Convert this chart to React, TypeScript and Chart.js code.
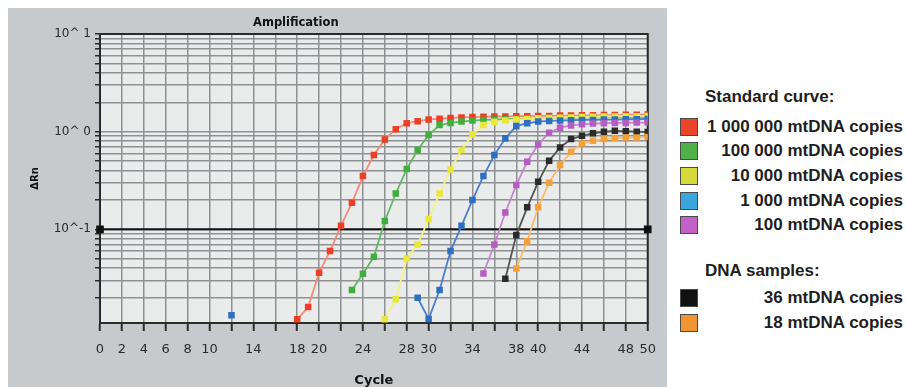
import React, { useEffect, useRef } from "react";
import { Chart, registerables } from "chart.js";

Chart.register(...registerables);

// ---- axis data ----
const cycleMin = 0;
const cycleMax = 50;
const cycleStep = 2;
const xTickLabels = [0, 2, 4, 6, 8, 10, 14, 18, 20, 24, 28, 30, 34, 38, 40, 44, 48, 50];
const yMin = 0.011;
const yMax = 10;
const yTickValues = [
  0.02, 0.03, 0.04, 0.05, 0.06, 0.07, 0.08, 0.09,
  0.1, 0.2, 0.3, 0.4, 0.5, 0.6, 0.7, 0.8, 0.9,
  1, 2, 3, 4, 5, 6, 7, 8, 9, 10,
];
const yLabelValues = [0.1, 1, 10];
const yLabelTexts = ["10^-1", "10^ 0", "10^ 1"];
const threshold = 0.1;

// ---- series data (ΔRn per cycle, starting at the given cycle) ----
const seriesNames = [
  "1 000 000 mtDNA copies",
  "100 000 mtDNA copies",
  "10 000 mtDNA copies",
  "1 000 mtDNA copies",
  "100 mtDNA copies",
  "36 mtDNA copies",
  "18 mtDNA copies",
];
const seriesGroups = ["Standard curve:", "Standard curve:", "Standard curve:", "Standard curve:", "Standard curve:", "DNA samples:", "DNA samples:"];

const redStart = 18;
const redValues = [0.012, 0.016, 0.036, 0.06, 0.109, 0.187, 0.351, 0.576, 0.834, 1.06, 1.22, 1.28, 1.33, 1.36, 1.38, 1.4, 1.41, 1.42, 1.43, 1.43, 1.44, 1.44, 1.45, 1.45, 1.46, 1.46, 1.47, 1.47, 1.48, 1.48, 1.49, 1.49, 1.5];
const greenStart = 23;
const greenValues = [0.0239, 0.0351, 0.0524, 0.122, 0.233, 0.414, 0.648, 0.923, 1.17, 1.23, 1.27, 1.3, 1.32, 1.33, 1.34, 1.35, 1.36, 1.37, 1.38, 1.38, 1.39, 1.39, 1.4, 1.4, 1.41, 1.41, 1.42, 1.42];
const yellowStart = 26;
const yellowValues = [0.012, 0.0192, 0.05, 0.07, 0.127, 0.233, 0.411, 0.648, 0.94, 1.17, 1.26, 1.3, 1.33, 1.35, 1.37, 1.38, 1.39, 1.4, 1.41, 1.42, 1.43, 1.43, 1.44, 1.44, 1.45];
const blueStart = 12;
const blueValues = [0.0132, null, null, null, null, null, null, null, null, null, null, null, null, null, null, null, null, 0.0199, 0.0121, 0.0239, 0.0599, 0.1087, 0.1995, 0.351, 0.576, 0.854, 1.14, 1.22, 1.27, 1.29, 1.3, 1.31, 1.32, 1.32, 1.33, 1.33, 1.34, 1.34, 1.35];
const purpleStart = 35;
const purpleValues = [0.0354, 0.07, 0.149, 0.284, 0.492, 0.741, 0.975, 1.1, 1.16, 1.19, 1.21, 1.22, 1.23, 1.23, 1.24, 1.24];
const blackStart = 37;
const blackValues = [0.0312, 0.0873, 0.168, 0.307, 0.503, 0.69, 0.84, 0.908, 0.961, 0.998, 1.02, 1.01, 1.0, 0.99];
const orangeStart = 38;
const orangeValues = [0.0398, 0.0757, 0.168, 0.3, 0.455, 0.622, 0.759, 0.807, 0.84, 0.86, 0.87, 0.87, 0.88];

const seriesStarts = [redStart, greenStart, yellowStart, blueStart, purpleStart, blackStart, orangeStart];
const seriesValues: (number | null)[][] = [redValues, greenValues, yellowValues, blueValues, purpleValues, blackValues, orangeValues];

// ---- styles ----
const markerColors = ["#ee3e24", "#3fae3f", "#e8e83a", "#2f6fc2", "#b65cc2", "#2b2b2b", "#f6a03a"];
const lineColors = ["#f48a78", "#62b862", "#f2f28a", "#4c7fcb", "#c487cf", "#555555", "#f9bc70"];
const swatchColors = ["#e8452a", "#52b04a", "#d8d838", "#3aa6de", "#c262c4", "#111111", "#f09434"];

const FONT = "'DejaVu Sans', sans-serif";
const LEGEND_FONT = "'Liberation Sans', Arial, sans-serif";

export default function App() {
  const canvasRef = useRef<HTMLCanvasElement>(null);

  useEffect(() => {
    const canvas = canvasRef.current;
    if (!canvas) return;

    const datasets: any[] = seriesNames.map((name, i) => ({
      label: name,
      data: seriesValues[i].map((v, k) => ({ x: seriesStarts[i] + k, y: v })),
      borderColor: lineColors[i],
      backgroundColor: markerColors[i],
      pointBackgroundColor: markerColors[i],
      pointBorderColor: markerColors[i],
      pointBorderWidth: 0,
      pointStyle: "rect",
      pointRadius: 4.6,
      borderWidth: 1.8,
      tension: 0,
      spanGaps: false,
      order: seriesNames.length - i,
    }));

    datasets.push({
      label: "threshold",
      data: [
        { x: cycleMin, y: threshold },
        { x: cycleMax, y: threshold },
      ],
      borderColor: "#111111",
      backgroundColor: "#111111",
      pointBackgroundColor: "#111111",
      pointBorderColor: "#111111",
      pointStyle: "rect",
      pointRadius: 4,
      borderWidth: 2,
      clip: false,
      order: 100,
    });

    const plotFrame = {
      id: "plotFrame",
      beforeDraw(chart: any) {
        const { ctx, chartArea: a } = chart;
        ctx.save();
        ctx.fillStyle = "#eaebeb";
        ctx.fillRect(a.left, a.top, a.right - a.left, a.bottom - a.top);
        ctx.restore();
      },
      beforeDatasetsDraw(chart: any) {
        const { ctx, chartArea: a } = chart;
        ctx.save();
        ctx.strokeStyle = "#2a2a2a";
        ctx.lineWidth = 2;
        ctx.strokeRect(a.left, a.top, a.right - a.left, a.bottom - a.top);
        ctx.restore();
      },
    };

    const chart = new Chart(canvas, {
      type: "line",
      data: { datasets },
      options: {
        animation: false,
        responsive: false,
        devicePixelRatio: 1,
        layout: { padding: { left: 0, right: 15, top: 26, bottom: 0 } },
        plugins: {
          legend: { display: false },
          title: { display: false },
          tooltip: { enabled: false },
        },
        scales: {
          x: {
            type: "linear",
            min: cycleMin,
            max: cycleMax,
            afterFit: (s: any) => {
              s.height = 64;
            },
            ticks: {
              stepSize: cycleStep,
              autoSkip: false,
              maxRotation: 0,
              padding: 11,
              color: "#2a2a2a",
              font: { family: FONT, size: 13 },
              callback: (v: any) => (xTickLabels.includes(Number(v)) ? String(v) : ""),
            },
            grid: { color: "#8e9193", lineWidth: 1.5, tickLength: 8, tickColor: "#2a2a2a", tickWidth: 2 },
            border: { display: true, color: "#2a2a2a", width: 2 },
            title: {
              display: true,
              text: "Cycle",
              color: "#111",
              font: { family: FONT, size: 13, weight: "bold" },
              padding: { top: 0, bottom: -1 },
            },
          },
          y: {
            type: "logarithmic",
            min: yMin,
            max: yMax,
            afterBuildTicks: (s: any) => {
              s.ticks = yTickValues.map((v) => ({ value: v }));
            },
            afterFit: (s: any) => {
              s.width = 92;
            },
            ticks: {
              autoSkip: false,
              padding: 4,
              color: "#2a2a2a",
              font: { family: FONT, size: 12 },
              callback: (v: any) => {
                const i = yLabelValues.indexOf(Number(v));
                return i >= 0 ? yLabelTexts[i] : "";
              },
            },
            grid: { color: "#8e9193", lineWidth: 1.5, tickLength: 5, tickColor: "#2a2a2a", tickWidth: 1.5 },
            border: { display: true, color: "#2a2a2a", width: 2 },
            title: {
              display: true,
              text: "ΔRn",
              color: "#111",
              font: { family: FONT, size: 10, weight: "bold" },
              padding: { top: 21, bottom: 0 },
            },
          },
        },
      } as any,
      plugins: [plotFrame],
    });

    return () => chart.destroy();
  }, []);

  const standardIdx = seriesNames.map((_, i) => i).filter((i) => seriesGroups[i] === "Standard curve:");
  const sampleIdx = seriesNames.map((_, i) => i).filter((i) => seriesGroups[i] === "DNA samples:");

  const row = (i: number, centerY: number) => (
    <div
      key={i}
      style={{ position: "absolute", left: 680, top: centerY - 12, width: 223, height: 24 }}
    >
      <div
        style={{
          position: "absolute",
          left: 0,
          top: 3,
          width: 16,
          height: 16,
          background: swatchColors[i],
          border: "1.5px solid #4a4a4a",
        }}
      />
      <div
        style={{
          position: "absolute",
          right: 0,
          top: 0,
          lineHeight: "24px",
          fontFamily: LEGEND_FONT,
          fontWeight: "bold",
          fontSize: 17,
          color: "#1e1e1e",
          whiteSpace: "nowrap",
        }}
      >
        {seriesNames[i]}
      </div>
    </div>
  );

  const header = (text: string, centerY: number) => (
    <div
      style={{
        position: "absolute",
        left: 705,
        top: centerY - 12,
        lineHeight: "24px",
        fontFamily: LEGEND_FONT,
        fontWeight: "bold",
        fontSize: 17,
        color: "#1e1e1e",
        whiteSpace: "nowrap",
      }}
    >
      {text}
    </div>
  );

  return (
    <div style={{ position: "fixed", left: 0, top: 0, width: 906, height: 387, background: "#ffffff", overflow: "hidden" }}>
      <div style={{ position: "absolute", left: 8, top: 8, width: 659, height: 379, background: "#c7cacc" }}>
        <canvas ref={canvasRef} width={659} height={379} style={{ display: "block", width: 659, height: 379 }} />
      </div>
      <div
        style={{
          position: "absolute",
          left: 253,
          top: 15,
          lineHeight: "14px",
          fontFamily: FONT,
          fontWeight: "bold",
          fontSize: 11.5,
          color: "#111",
          whiteSpace: "nowrap",
        }}
      >
        Amplification
      </div>
      {header("Standard curve:", 96.5)}
      {standardIdx.map((i, k) => row(i, 126.5 + k * 24.7))}
      {header("DNA samples:", 270.5)}
      {sampleIdx.map((i, k) => row(i, 298 + k * 25))}
    </div>
  );
}
